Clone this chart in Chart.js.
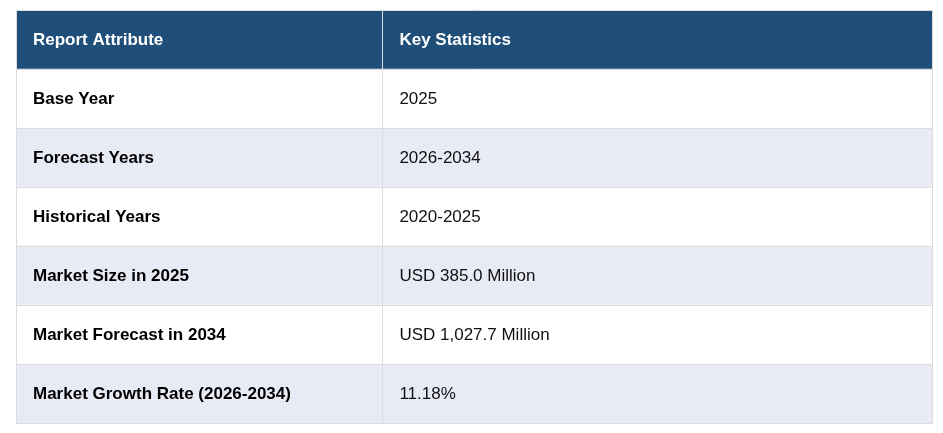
<!DOCTYPE html>
<html lang="en">
<head>
  <meta charset="UTF-8" />
  <title>Report Attributes</title>
  <script src="https://cdn.jsdelivr.net/npm/chart.js"></script>
  <style>
    html, body { margin: 0; padding: 0; background: #fff; }
    #wrap { width: 943px; height: 433px; }
  </style>
</head>
<body>
<div id="wrap"><canvas id="table" width="943" height="433"></canvas></div>

<script>
  // --- table content ---
  const headers = ["Report Attribute", "Key Statistics"];
  const attributes = [
    "Base Year",
    "Forecast Years",
    "Historical Years",
    "Market Size in 2025",
    "Market Forecast in 2034",
    "Market Growth Rate (2026-2034)"
  ];
  const statistics = [
    "2025",
    "2026-2034",
    "2020-2025",
    "USD 385.0 Million",
    "USD 1,027.7 Million",
    "11.18%"
  ];

  const rows = [headers[0], ...attributes];
  const col1 = [headers[0], ...attributes];
  const col2 = [headers[1], ...statistics];

  // layout / style
  const SPLIT = 0.4;           // share of width taken by the first column
  const HEAD = "#1f4e79";
  const STRIPE = "#e8eaf5";
  const LINE = "#dcdcdc";
  const FONT = "Liberation Sans, Arial, sans-serif";

  function cellColor(ctx) {
    if (ctx.dataIndex === 0) return HEAD;
    return ctx.dataIndex % 2 === 0 ? STRIPE : "#ffffff";
  }

  // writes cell text at the positions the scales give
  const cellText = {
    id: "cellText",
    afterDraw(chart) {
      const { ctx, scales: { x, y } } = chart;
      ctx.save();
      ctx.textBaseline = "middle";
      rows.forEach((r, i) => {
        const py = y.getPixelForValue(i) + 1;
        ctx.fillStyle = i === 0 ? "#ffffff" : "#000000";
        ctx.font = "bold 17px " + FONT;
        ctx.fillText(col1[i], x.getPixelForValue(0) + 17, py);
        if (i > 0) {
          ctx.fillStyle = "#111111";
          ctx.font = "17px " + FONT;
        }
        ctx.fillText(col2[i], x.getPixelForValue(SPLIT) + 17, py);
      });
      ctx.restore();
    }
  };

  new Chart(document.getElementById("table"), {
    type: "bar",
    data: {
      labels: rows,
      datasets: [
        { data: rows.map(() => [0, SPLIT]), backgroundColor: cellColor },
        { data: rows.map(() => [SPLIT, 1]), backgroundColor: cellColor }
      ]
    },
    options: {
      indexAxis: "y",
      responsive: false,
      animation: false,
      layout: { padding: { left: 16, top: 10, right: 11, bottom: 10 } },
      datasets: { bar: { barPercentage: 1, categoryPercentage: 1, grouped: false, borderWidth: 0 } },
      plugins: { legend: { display: false }, tooltip: { enabled: false } },
      scales: {
        x: {
          min: 0, max: 1,
          afterBuildTicks: s => { s.ticks = [{ value: 0 }, { value: SPLIT }, { value: 1 }]; },
          ticks: { display: false },
          grid: { color: LINE, drawTicks: false, z: 1 },
          border: { display: true, color: LINE, z: 1 }
        },
        y: {
          ticks: { display: false },
          grid: { color: LINE, drawTicks: false, offset: true, z: 1 },
          border: { display: true, color: LINE, z: 1 }
        }
      }
    },
    plugins: [cellText]
  });
</script>
</body>
</html>
